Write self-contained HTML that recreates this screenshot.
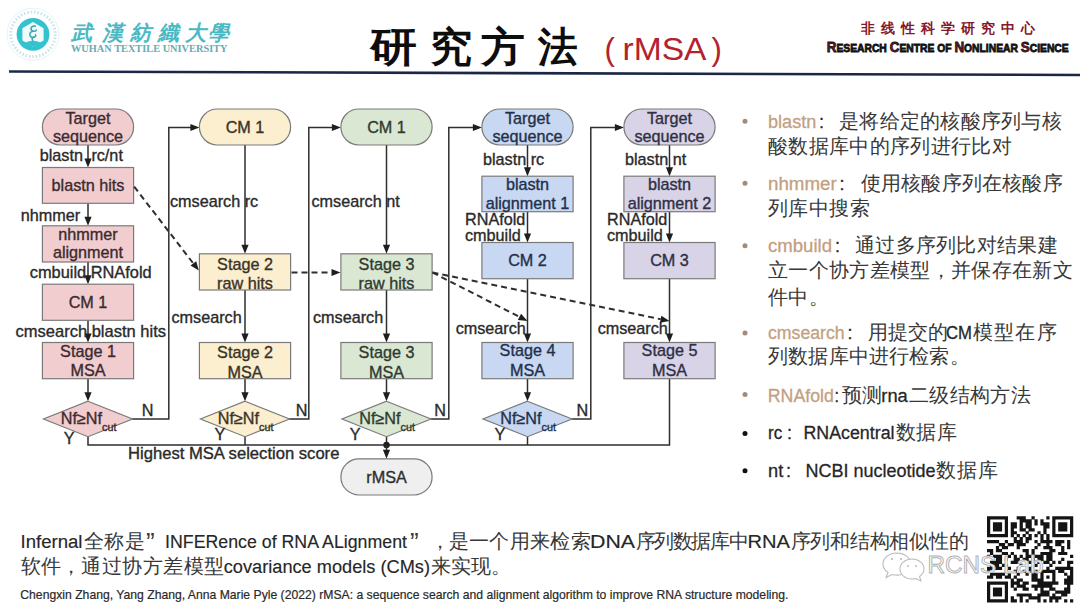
<!DOCTYPE html>
<html><head><meta charset="utf-8"><style>
html,body{margin:0;padding:0;background:#fff;}
body{width:1080px;height:609px;overflow:hidden;font-family:"Liberation Sans",sans-serif;}
svg{display:block;font-family:"Liberation Sans",sans-serif;}
</style></head><body>
<svg width="1080" height="609" viewBox="0 0 1080 609">
<line x1="9" y1="71.5" x2="1080" y2="75" stroke="#1c2748" stroke-width="2.6"/>
<circle cx="33" cy="34.3" r="26" fill="none" stroke="#dff0f2" stroke-width="0.8"/>
<circle cx="33" cy="34.3" r="22.3" fill="none" stroke="#c8e6ea" stroke-width="3" stroke-dasharray="1.6 1.8"/>
<circle cx="33" cy="34.3" r="16.4" fill="#33c3cf"/>
<polygon points="33.0,22.1 43.6,28.2 43.6,40.4 33.0,46.5 22.4,40.4 22.4,28.2" fill="#f2fbfb"/>
<path d="M36,26.299999999999997 q-4,-1 -5,2 q0,3 3,3 q3,0 2,-2 M33,31.299999999999997 q-4,1 -3,4 q1,3 4,2 q3,-1 1,-3 M34,36.3 q-3,2 -1,5" fill="none" stroke="#3aa5ae" stroke-width="1.5"/>
<path d="M25,42.8 q8,-4 16,0 l-8,4 z" fill="#33c3cf"/>
<text x="81" y="39.5" font-size="21" fill="#4ab9c3" text-anchor="middle" font-weight="bold" font-style="italic" font-family="'Liberation Serif',serif">武</text>
<text x="112" y="39.5" font-size="21" fill="#4ab9c3" text-anchor="middle" font-weight="bold" font-style="italic" font-family="'Liberation Serif',serif">漢</text>
<text x="140" y="39.5" font-size="21" fill="#4ab9c3" text-anchor="middle" font-weight="bold" font-style="italic" font-family="'Liberation Serif',serif">紡</text>
<text x="168" y="39.5" font-size="21" fill="#4ab9c3" text-anchor="middle" font-weight="bold" font-style="italic" font-family="'Liberation Serif',serif">織</text>
<text x="195" y="39.5" font-size="21" fill="#4ab9c3" text-anchor="middle" font-weight="bold" font-style="italic" font-family="'Liberation Serif',serif">大</text>
<text x="218" y="39.5" font-size="21" fill="#4ab9c3" text-anchor="middle" font-weight="bold" font-style="italic" font-family="'Liberation Serif',serif">學</text>
<text x="71" y="52.2" font-size="10.2" fill="#68abb2" font-weight="bold" textLength="156.5" lengthAdjust="spacingAndGlyphs" font-family="'Liberation Serif',serif">WUHAN TEXTILE UNIVERSITY</text>
<text x="370.2" y="61.3" font-size="41" font-weight="bold" fill="#0d0d0d" textLength="47.1" lengthAdjust="spacingAndGlyphs">研</text>
<text x="430.2" y="61.3" font-size="41" font-weight="bold" fill="#0d0d0d" textLength="42.1" lengthAdjust="spacingAndGlyphs">究</text>
<text x="481.0" y="61.3" font-size="41" font-weight="bold" fill="#0d0d0d" textLength="43.8" lengthAdjust="spacingAndGlyphs">方</text>
<text x="537.9" y="61.3" font-size="41" font-weight="bold" fill="#0d0d0d" textLength="39.6" lengthAdjust="spacingAndGlyphs">法</text>
<text x="604.5" y="60" font-size="31" fill="#b3222e">(</text>
<text x="622.5" y="60" font-size="31" fill="#b3222e" textLength="84" lengthAdjust="spacingAndGlyphs">rMSA</text>
<text x="711.5" y="60" font-size="31" fill="#b3222e">)</text>
<text x="861" y="32.5" font-size="14" font-weight="bold" fill="#86182a" textLength="174" lengthAdjust="spacing">非线性科学研究中心</text>
<text x="826.7" y="52.2" font-weight="bold" fill="#111" stroke="#111" stroke-width="0.8" textLength="242" lengthAdjust="spacingAndGlyphs"><tspan fill="#7a1424" font-size="15">R</tspan><tspan font-size="11.5">ESEARCH</tspan><tspan font-size="11.5"> </tspan><tspan fill="#7a1424" font-size="15">C</tspan><tspan font-size="11.5">ENTRE</tspan><tspan font-size="11.5"> </tspan><tspan font-size="11.5">OF</tspan><tspan font-size="11.5"> </tspan><tspan fill="#7a1424" font-size="15">N</tspan><tspan font-size="11.5">ONLINEAR</tspan><tspan font-size="11.5"> </tspan><tspan fill="#7a1424" font-size="15">S</tspan><tspan font-size="11.5">CIENCE</tspan></text>
<polyline points="132,419 168.8,419 168.8,127.5 191.4,127.5" fill="none" stroke="#2e2e2e" stroke-width="1.5"/>
<polygon points="190.4,123.9 190.4,131.1 199.4,127.5" fill="#1e1e1e"/>
<polyline points="289,419 308.8,419 308.8,127.5 332.9,127.5" fill="none" stroke="#2e2e2e" stroke-width="1.5"/>
<polygon points="331.9,123.9 331.9,131.1 340.9,127.5" fill="#1e1e1e"/>
<polyline points="430.5,419 448.8,419 448.8,127.5 473.9,127.5" fill="none" stroke="#2e2e2e" stroke-width="1.5"/>
<polygon points="472.9,123.9 472.9,131.1 481.9,127.5" fill="#1e1e1e"/>
<polyline points="571.5,419 590.8,419 590.8,127.5 615.9,127.5" fill="none" stroke="#2e2e2e" stroke-width="1.5"/>
<polygon points="614.9,123.9 614.9,131.1 623.9,127.5" fill="#1e1e1e"/>
<polyline points="88,437 88,445 669.5,445 669.5,378.5" fill="none" stroke="#2e2e2e" stroke-width="1.5"/>
<line x1="245" y1="437" x2="245" y2="445" stroke="#2e2e2e" stroke-width="1.5"/>
<line x1="386.5" y1="437" x2="386.5" y2="445" stroke="#2e2e2e" stroke-width="1.5"/>
<line x1="527.5" y1="437" x2="527.5" y2="445" stroke="#2e2e2e" stroke-width="1.5"/>
<circle cx="386.5" cy="445" r="3.2" fill="#1e1e1e"/>
<line x1="386.5" y1="445" x2="386.5" y2="452.8" stroke="#2e2e2e" stroke-width="1.5"/><polygon points="382.9,449.8 390.1,449.8 386.5,458.8" fill="#1e1e1e"/>
<line x1="88" y1="145" x2="88" y2="161.5" stroke="#2e2e2e" stroke-width="1.5"/><polygon points="84.4,158.5 91.6,158.5 88,167.5" fill="#1e1e1e"/>
<line x1="88" y1="203.3" x2="88" y2="219.8" stroke="#2e2e2e" stroke-width="1.5"/><polygon points="84.4,216.8 91.6,216.8 88,225.8" fill="#1e1e1e"/>
<line x1="88" y1="262" x2="88" y2="278.2" stroke="#2e2e2e" stroke-width="1.5"/><polygon points="84.4,275.2 91.6,275.2 88,284.2" fill="#1e1e1e"/>
<line x1="88" y1="320.3" x2="88" y2="336.5" stroke="#2e2e2e" stroke-width="1.5"/><polygon points="84.4,333.5 91.6,333.5 88,342.5" fill="#1e1e1e"/>
<line x1="88" y1="378.7" x2="88" y2="395.2" stroke="#2e2e2e" stroke-width="1.5"/><polygon points="84.4,392.2 91.6,392.2 88,401.2" fill="#1e1e1e"/>
<rect x="42.4" y="109" width="91.2" height="36" rx="18.0" ry="18.0" fill="#f1cdd0" stroke="#7a7a7a" stroke-width="1.2"/>
<text x="88" y="123.8" font-size="16.2" fill="#3b2b2e" text-anchor="middle" stroke="#3b2b2e" stroke-width="0.35">Target</text>
<text x="88" y="142.3" font-size="16.2" fill="#3b2b2e" text-anchor="middle" stroke="#3b2b2e" stroke-width="0.35">sequence</text>
<rect x="42.4" y="167.5" width="91.2" height="35.80000000000001" fill="#f1cdd0" stroke="#7a7a7a" stroke-width="1.2"/>
<text x="88" y="191.3" font-size="16.2" fill="#3b2b2e" text-anchor="middle" stroke="#3b2b2e" stroke-width="0.35">blastn hits</text>
<rect x="42.4" y="225.8" width="91.2" height="36.19999999999999" fill="#f1cdd0" stroke="#7a7a7a" stroke-width="1.2"/>
<text x="88" y="240" font-size="16.2" fill="#3b2b2e" text-anchor="middle" stroke="#3b2b2e" stroke-width="0.35">nhmmer</text>
<text x="88" y="258.3" font-size="16.2" fill="#3b2b2e" text-anchor="middle" stroke="#3b2b2e" stroke-width="0.35">alignment</text>
<rect x="42.4" y="284.2" width="91.2" height="36.10000000000002" fill="#f1cdd0" stroke="#7a7a7a" stroke-width="1.2"/>
<text x="88" y="307.5" font-size="16.2" fill="#3b2b2e" text-anchor="middle" stroke="#3b2b2e" stroke-width="0.35">CM 1</text>
<rect x="42.4" y="342.5" width="91.2" height="36.19999999999999" fill="#f1cdd0" stroke="#7a7a7a" stroke-width="1.2"/>
<text x="88" y="356.7" font-size="16.2" fill="#3b2b2e" text-anchor="middle" stroke="#3b2b2e" stroke-width="0.35">Stage 1</text>
<text x="88" y="375.8" font-size="16.2" fill="#3b2b2e" text-anchor="middle" stroke="#3b2b2e" stroke-width="0.35">MSA</text>
<text x="39.7" y="160.8" font-size="16.2" fill="#2a2a2a" stroke="#2a2a2a" stroke-width="0.35">blastn<tspan dx="4"> </tspan>rc/nt</text>
<text x="20.8" y="220.8" font-size="16.2" fill="#2a2a2a" stroke="#2a2a2a" stroke-width="0.35">nhmmer</text>
<text x="29.7" y="277.5" font-size="16.2" fill="#2a2a2a" textLength="122" lengthAdjust="spacingAndGlyphs" stroke="#2a2a2a" stroke-width="0.35">cmbuild RNAfold</text>
<text x="15.5" y="336.7" font-size="16.2" fill="#2a2a2a" textLength="150.5" lengthAdjust="spacingAndGlyphs" stroke="#2a2a2a" stroke-width="0.35">cmsearch blastn hits</text>
<line x1="245" y1="145" x2="245" y2="247.8" stroke="#2e2e2e" stroke-width="1.5"/><polygon points="241.4,244.8 248.6,244.8 245,253.8" fill="#1e1e1e"/>
<line x1="245" y1="290" x2="245" y2="336.5" stroke="#2e2e2e" stroke-width="1.5"/><polygon points="241.4,333.5 248.6,333.5 245,342.5" fill="#1e1e1e"/>
<line x1="245" y1="378.7" x2="245" y2="395.2" stroke="#2e2e2e" stroke-width="1.5"/><polygon points="241.4,392.2 248.6,392.2 245,401.2" fill="#1e1e1e"/>
<rect x="199.4" y="109" width="91.2" height="36" rx="18.0" ry="18.0" fill="#fbefcf" stroke="#7a7a7a" stroke-width="1.2"/>
<text x="245" y="133.3" font-size="16.2" fill="#3a3328" text-anchor="middle" stroke="#3a3328" stroke-width="0.35">CM 1</text>
<rect x="199.4" y="253.8" width="91.2" height="36.19999999999999" fill="#fbefcf" stroke="#7a7a7a" stroke-width="1.2"/>
<text x="245" y="269.8" font-size="16.2" fill="#3a3328" text-anchor="middle" stroke="#3a3328" stroke-width="0.35">Stage 2</text>
<text x="245" y="289.2" font-size="16.2" fill="#3a3328" text-anchor="middle" stroke="#3a3328" stroke-width="0.35">raw hits</text>
<rect x="199.4" y="342.5" width="91.2" height="36.19999999999999" fill="#fbefcf" stroke="#7a7a7a" stroke-width="1.2"/>
<text x="245" y="358.2" font-size="16.2" fill="#3a3328" text-anchor="middle" stroke="#3a3328" stroke-width="0.35">Stage 2</text>
<text x="245" y="377.7" font-size="16.2" fill="#3a3328" text-anchor="middle" stroke="#3a3328" stroke-width="0.35">MSA</text>
<text x="170" y="206.5" font-size="16.2" fill="#2a2a2a" stroke="#2a2a2a" stroke-width="0.35">cmsearch rc</text>
<text x="171.5" y="322.5" font-size="16.2" fill="#2a2a2a" stroke="#2a2a2a" stroke-width="0.35">cmsearch</text>
<line x1="386.5" y1="145" x2="386.5" y2="247.8" stroke="#2e2e2e" stroke-width="1.5"/><polygon points="382.9,244.8 390.1,244.8 386.5,253.8" fill="#1e1e1e"/>
<line x1="386.5" y1="290" x2="386.5" y2="336.5" stroke="#2e2e2e" stroke-width="1.5"/><polygon points="382.9,333.5 390.1,333.5 386.5,342.5" fill="#1e1e1e"/>
<line x1="386.5" y1="378.7" x2="386.5" y2="395.2" stroke="#2e2e2e" stroke-width="1.5"/><polygon points="382.9,392.2 390.1,392.2 386.5,401.2" fill="#1e1e1e"/>
<rect x="340.9" y="109" width="91.2" height="36" rx="18.0" ry="18.0" fill="#d9e7d3" stroke="#7a7a7a" stroke-width="1.2"/>
<text x="386.5" y="133.3" font-size="16.2" fill="#2f3a2f" text-anchor="middle" stroke="#2f3a2f" stroke-width="0.35">CM 1</text>
<rect x="340.9" y="253.8" width="91.2" height="36.19999999999999" fill="#d9e7d3" stroke="#7a7a7a" stroke-width="1.2"/>
<text x="386.5" y="269.8" font-size="16.2" fill="#2f3a2f" text-anchor="middle" stroke="#2f3a2f" stroke-width="0.35">Stage 3</text>
<text x="386.5" y="289.2" font-size="16.2" fill="#2f3a2f" text-anchor="middle" stroke="#2f3a2f" stroke-width="0.35">raw hits</text>
<rect x="340.9" y="342.5" width="91.2" height="36.19999999999999" fill="#d9e7d3" stroke="#7a7a7a" stroke-width="1.2"/>
<text x="386.5" y="358.2" font-size="16.2" fill="#2f3a2f" text-anchor="middle" stroke="#2f3a2f" stroke-width="0.35">Stage 3</text>
<text x="386.5" y="377.7" font-size="16.2" fill="#2f3a2f" text-anchor="middle" stroke="#2f3a2f" stroke-width="0.35">MSA</text>
<text x="311.5" y="206.5" font-size="16.2" fill="#2a2a2a" stroke="#2a2a2a" stroke-width="0.35">cmsearch nt</text>
<text x="313.0" y="322.5" font-size="16.2" fill="#2a2a2a" stroke="#2a2a2a" stroke-width="0.35">cmsearch</text>
<line x1="527.5" y1="145" x2="527.5" y2="170.2" stroke="#2e2e2e" stroke-width="1.5"/><polygon points="523.9,167.2 531.1,167.2 527.5,176.2" fill="#1e1e1e"/>
<line x1="527.5" y1="211.7" x2="527.5" y2="236.5" stroke="#2e2e2e" stroke-width="1.5"/><polygon points="523.9,233.5 531.1,233.5 527.5,242.5" fill="#1e1e1e"/>
<line x1="527.5" y1="278.7" x2="527.5" y2="336.5" stroke="#2e2e2e" stroke-width="1.5"/><polygon points="523.9,333.5 531.1,333.5 527.5,342.5" fill="#1e1e1e"/>
<line x1="527.5" y1="378.7" x2="527.5" y2="395.2" stroke="#2e2e2e" stroke-width="1.5"/><polygon points="523.9,392.2 531.1,392.2 527.5,401.2" fill="#1e1e1e"/>
<rect x="481.9" y="109" width="91.2" height="36" rx="18.0" ry="18.0" fill="#c8d8f3" stroke="#7a7a7a" stroke-width="1.2"/>
<text x="527.5" y="123.8" font-size="16.2" fill="#24304a" text-anchor="middle" stroke="#24304a" stroke-width="0.35">Target</text>
<text x="527.5" y="142.3" font-size="16.2" fill="#24304a" text-anchor="middle" stroke="#24304a" stroke-width="0.35">sequence</text>
<rect x="481.9" y="176.2" width="91.2" height="35.5" fill="#c8d8f3" stroke="#7a7a7a" stroke-width="1.2"/>
<text x="527.5" y="190.3" font-size="16.2" fill="#24304a" text-anchor="middle" stroke="#24304a" stroke-width="0.35">blastn</text>
<text x="527.5" y="209.2" font-size="16.2" fill="#24304a" text-anchor="middle" stroke="#24304a" stroke-width="0.35">alignment 1</text>
<rect x="481.9" y="242.5" width="91.2" height="36.19999999999999" fill="#c8d8f3" stroke="#7a7a7a" stroke-width="1.2"/>
<text x="527.5" y="266.3" font-size="16.2" fill="#24304a" text-anchor="middle" stroke="#24304a" stroke-width="0.35">CM 2</text>
<rect x="481.9" y="342.5" width="91.2" height="36.19999999999999" fill="#c8d8f3" stroke="#7a7a7a" stroke-width="1.2"/>
<text x="527.5" y="356.4" font-size="16.2" fill="#24304a" text-anchor="middle" stroke="#24304a" stroke-width="0.35">Stage 4</text>
<text x="527.5" y="375.8" font-size="16.2" fill="#24304a" text-anchor="middle" stroke="#24304a" stroke-width="0.35">MSA</text>
<text x="483.0" y="164.7" font-size="16.2" fill="#2a2a2a" stroke="#2a2a2a" stroke-width="0.35">blastn rc</text>
<text x="465.0" y="225" font-size="16.2" fill="#2a2a2a" stroke="#2a2a2a" stroke-width="0.35">RNAfold</text>
<text x="465.0" y="240.8" font-size="16.2" fill="#2a2a2a" stroke="#2a2a2a" stroke-width="0.35">cmbuild</text>
<text x="455.7" y="334.2" font-size="16.2" fill="#2a2a2a" stroke="#2a2a2a" stroke-width="0.35">cmsearch</text>
<line x1="669.5" y1="145" x2="669.5" y2="170.2" stroke="#2e2e2e" stroke-width="1.5"/><polygon points="665.9,167.2 673.1,167.2 669.5,176.2" fill="#1e1e1e"/>
<line x1="669.5" y1="211.7" x2="669.5" y2="236.5" stroke="#2e2e2e" stroke-width="1.5"/><polygon points="665.9,233.5 673.1,233.5 669.5,242.5" fill="#1e1e1e"/>
<line x1="669.5" y1="278.7" x2="669.5" y2="336.5" stroke="#2e2e2e" stroke-width="1.5"/><polygon points="665.9,333.5 673.1,333.5 669.5,342.5" fill="#1e1e1e"/>
<rect x="623.9" y="109" width="91.2" height="36" rx="18.0" ry="18.0" fill="#d8d3e6" stroke="#7a7a7a" stroke-width="1.2"/>
<text x="669.5" y="123.8" font-size="16.2" fill="#2f2f44" text-anchor="middle" stroke="#2f2f44" stroke-width="0.35">Target</text>
<text x="669.5" y="142.3" font-size="16.2" fill="#2f2f44" text-anchor="middle" stroke="#2f2f44" stroke-width="0.35">sequence</text>
<rect x="623.9" y="176.2" width="91.2" height="35.5" fill="#d8d3e6" stroke="#7a7a7a" stroke-width="1.2"/>
<text x="669.5" y="190.3" font-size="16.2" fill="#2f2f44" text-anchor="middle" stroke="#2f2f44" stroke-width="0.35">blastn</text>
<text x="669.5" y="209.2" font-size="16.2" fill="#2f2f44" text-anchor="middle" stroke="#2f2f44" stroke-width="0.35">alignment 2</text>
<rect x="623.9" y="242.5" width="91.2" height="36.19999999999999" fill="#d8d3e6" stroke="#7a7a7a" stroke-width="1.2"/>
<text x="669.5" y="266.3" font-size="16.2" fill="#2f2f44" text-anchor="middle" stroke="#2f2f44" stroke-width="0.35">CM 3</text>
<rect x="623.9" y="342.5" width="91.2" height="36.19999999999999" fill="#d8d3e6" stroke="#7a7a7a" stroke-width="1.2"/>
<text x="669.5" y="356.4" font-size="16.2" fill="#2f2f44" text-anchor="middle" stroke="#2f2f44" stroke-width="0.35">Stage 5</text>
<text x="669.5" y="375.8" font-size="16.2" fill="#2f2f44" text-anchor="middle" stroke="#2f2f44" stroke-width="0.35">MSA</text>
<text x="625.0" y="164.7" font-size="16.2" fill="#2a2a2a" stroke="#2a2a2a" stroke-width="0.35">blastn nt</text>
<text x="607.0" y="225" font-size="16.2" fill="#2a2a2a" stroke="#2a2a2a" stroke-width="0.35">RNAfold</text>
<text x="607.0" y="240.8" font-size="16.2" fill="#2a2a2a" stroke="#2a2a2a" stroke-width="0.35">cmbuild</text>
<text x="597.7" y="334.2" font-size="16.2" fill="#2a2a2a" stroke="#2a2a2a" stroke-width="0.35">cmsearch</text>
<polygon points="88,401.2 132.5,418.95 88,436.7 43.5,418.95" fill="#f1cdd0" stroke="#7a7a7a" stroke-width="1.2"/>
<text x="60.8" y="424.2" font-size="16.2" fill="#3b2b2e" stroke="#3b2b2e" stroke-width="0.35">Nf≥Nf<tspan font-size="10.8" dy="6.8">cut</tspan></text>
<text x="141.7" y="416" font-size="16.2" fill="#2a2a2a" stroke="#2a2a2a" stroke-width="0.35">N</text>
<text x="63.7" y="444.3" font-size="16.2" fill="#2a2a2a" stroke="#2a2a2a" stroke-width="0.35">Y</text>
<polygon points="245,401.2 289.5,418.95 245,436.7 200.5,418.95" fill="#fbefcf" stroke="#7a7a7a" stroke-width="1.2"/>
<text x="217.8" y="424.2" font-size="16.2" fill="#3a3328" stroke="#3a3328" stroke-width="0.35">Nf≥Nf<tspan font-size="10.8" dy="6.8">cut</tspan></text>
<text x="295.7" y="416" font-size="16.2" fill="#2a2a2a" stroke="#2a2a2a" stroke-width="0.35">N</text>
<text x="214.6" y="440.4" font-size="16.2" fill="#2a2a2a" stroke="#2a2a2a" stroke-width="0.35">Y</text>
<polygon points="386.5,401.2 431.0,418.95 386.5,436.7 342.0,418.95" fill="#d9e7d3" stroke="#7a7a7a" stroke-width="1.2"/>
<text x="359.3" y="424.2" font-size="16.2" fill="#2f3a2f" stroke="#2f3a2f" stroke-width="0.35">Nf≥Nf<tspan font-size="10.8" dy="6.8">cut</tspan></text>
<text x="434.3" y="416" font-size="16.2" fill="#2a2a2a" stroke="#2a2a2a" stroke-width="0.35">N</text>
<text x="349.7" y="439.8" font-size="16.2" fill="#2a2a2a" stroke="#2a2a2a" stroke-width="0.35">Y</text>
<polygon points="527.5,401.2 572.0,418.95 527.5,436.7 483.0,418.95" fill="#c8d8f3" stroke="#7a7a7a" stroke-width="1.2"/>
<text x="500.3" y="424.2" font-size="16.2" fill="#24304a" stroke="#24304a" stroke-width="0.35">Nf≥Nf<tspan font-size="10.8" dy="6.8">cut</tspan></text>
<text x="576.4" y="416" font-size="16.2" fill="#2a2a2a" stroke="#2a2a2a" stroke-width="0.35">N</text>
<text x="494.6" y="440.4" font-size="16.2" fill="#2a2a2a" stroke="#2a2a2a" stroke-width="0.35">Y</text>
<line x1="134.2" y1="186.7" x2="193.3" y2="263.4" stroke="#2e2e2e" stroke-width="2" stroke-dasharray="6 4"/><polygon points="190.5,265.6 196.2,261.2 198.8,270.5" fill="#1e1e1e"/>
<line x1="291.5" y1="272.5" x2="331.5" y2="272.5" stroke="#2e2e2e" stroke-width="2" stroke-dasharray="6 4"/><polygon points="331.5,276.1 331.5,268.9 340.5,272.5" fill="#1e1e1e"/>
<line x1="432.5" y1="272.5" x2="519.5" y2="316.9" stroke="#2e2e2e" stroke-width="2" stroke-dasharray="6 4"/><polygon points="517.8,320.1 521.1,313.7 527.5,321" fill="#1e1e1e"/>
<line x1="432.5" y1="272.5" x2="660.7" y2="319.2" stroke="#2e2e2e" stroke-width="2" stroke-dasharray="6 4"/><polygon points="660.0,322.7 661.4,315.7 669.5,321" fill="#1e1e1e"/>
<rect x="340.9" y="458.8" width="91.2" height="36.19999999999999" rx="18.099999999999994" ry="18.099999999999994" fill="#efefef" stroke="#7a7a7a" stroke-width="1.2"/>
<text x="386.5" y="483" font-size="16.2" fill="#2e2e2e" text-anchor="middle" stroke="#2e2e2e" stroke-width="0.35">rMSA</text>
<text x="128" y="459.4" font-size="16.2" fill="#2a2a2a" textLength="211.4" lengthAdjust="spacingAndGlyphs" stroke="#2a2a2a" stroke-width="0.35">Highest MSA selection score</text>
<circle cx="745" cy="121.3" r="2.5" fill="#a58a7a"/>
<text x="768" y="127.5" font-size="19.2" fill="#c3a080" stroke="#c3a080" stroke-width="0.3" textLength="48.3" lengthAdjust="spacingAndGlyphs">blastn</text>
<text x="819" y="127.5" font-size="19.2" fill="#262626" stroke="#262626" stroke-width="0.3" textLength="5.0" lengthAdjust="spacingAndGlyphs">:</text>
<text x="839.2" y="127.5" font-size="19.5" fill="#383838" textLength="222.3" lengthAdjust="spacing">是将给定的核酸序列与核</text>
<text x="768" y="152.5" font-size="19.5" fill="#383838" textLength="243.5" lengthAdjust="spacing">酸数据库中的序列进行比对</text>
<circle cx="745" cy="183.3" r="2.5" fill="#a58a7a"/>
<text x="768" y="190" font-size="19.2" fill="#c3a080" stroke="#c3a080" stroke-width="0.3" textLength="68.7" lengthAdjust="spacingAndGlyphs">nhmmer</text>
<text x="839.5" y="190" font-size="19.2" fill="#262626" stroke="#262626" stroke-width="0.3" textLength="5.0" lengthAdjust="spacingAndGlyphs">:</text>
<text x="860.8" y="190" font-size="19.5" fill="#383838" textLength="201.7" lengthAdjust="spacing">使用核酸序列在核酸序</text>
<text x="768" y="215" font-size="19.5" fill="#383838" textLength="101.5" lengthAdjust="spacing">列库中搜索</text>
<circle cx="745" cy="245.8" r="2.5" fill="#a58a7a"/>
<text x="768" y="251.7" font-size="19.2" fill="#c3a080" stroke="#c3a080" stroke-width="0.3" textLength="64.0" lengthAdjust="spacingAndGlyphs">cmbuild</text>
<text x="835" y="251.7" font-size="19.2" fill="#262626" stroke="#262626" stroke-width="0.3" textLength="5.0" lengthAdjust="spacingAndGlyphs">:</text>
<text x="855" y="251.7" font-size="19.5" fill="#383838" textLength="202.5" lengthAdjust="spacing">通过多序列比对结果建</text>
<text x="768" y="276.5" font-size="19.5" fill="#383838" textLength="304.5" lengthAdjust="spacing">立一个协方差模型，并保存在新文</text>
<text x="768" y="303.5" font-size="19.5" fill="#383838" textLength="60.6" lengthAdjust="spacing">件中。</text>
<circle cx="745" cy="333" r="2.5" fill="#a58a7a"/>
<text x="768" y="338.7" font-size="19.2" fill="#c3a080" stroke="#c3a080" stroke-width="0.3" textLength="76.7" lengthAdjust="spacingAndGlyphs">cmsearch</text>
<text x="847.5" y="338.7" font-size="19.2" fill="#262626" stroke="#262626" stroke-width="0.3" textLength="5.0" lengthAdjust="spacingAndGlyphs">:</text>
<text x="867.5" y="338.7" font-size="19.5" fill="#383838" textLength="80.8" lengthAdjust="spacing">用提交的</text>
<text x="946" y="338.7" font-size="19.2" fill="#262626" stroke="#262626" stroke-width="0.3" textLength="26.0" lengthAdjust="spacingAndGlyphs">CM</text>
<text x="973" y="338.7" font-size="19.5" fill="#383838" textLength="83.5" lengthAdjust="spacing">模型在序</text>
<text x="768" y="363.3" font-size="19.5" fill="#383838" textLength="201.5" lengthAdjust="spacing">列数据库中进行检索。</text>
<circle cx="745" cy="394.6" r="2.5" fill="#a58a7a"/>
<text x="767.8" y="401.5" font-size="19.2" fill="#c3a080" stroke="#c3a080" stroke-width="0.3" textLength="66.1" lengthAdjust="spacingAndGlyphs">RNAfold</text>
<text x="834.5" y="401.5" font-size="19.2" fill="#262626" stroke="#262626" stroke-width="0.3" textLength="4.5" lengthAdjust="spacingAndGlyphs">:</text>
<text x="841.7" y="401.5" font-size="19.5" fill="#383838" textLength="39.8" lengthAdjust="spacing">预测</text>
<text x="881.3" y="401.5" font-size="19.2" fill="#262626" stroke="#262626" stroke-width="0.3" textLength="26.5" lengthAdjust="spacingAndGlyphs">rna</text>
<text x="909" y="401.5" font-size="19.5" fill="#383838" textLength="121.5" lengthAdjust="spacing">二级结构方法</text>
<circle cx="745" cy="433.4" r="2.5" fill="#111"/>
<text x="768" y="439.3" font-size="19.2" fill="#262626" stroke="#262626" stroke-width="0.3" textLength="14.2" lengthAdjust="spacingAndGlyphs">rc</text>
<text x="787" y="439.3" font-size="19.2" fill="#262626" stroke="#262626" stroke-width="0.3" textLength="5.0" lengthAdjust="spacingAndGlyphs">:</text>
<text x="803.5" y="439.3" font-size="19.2" fill="#262626" stroke="#262626" stroke-width="0.3" textLength="91.0" lengthAdjust="spacingAndGlyphs">RNAcentral</text>
<text x="895.5" y="439.3" font-size="19.5" fill="#383838" textLength="61.4" lengthAdjust="spacing">数据库</text>
<circle cx="745" cy="470.8" r="2.5" fill="#111"/>
<text x="768" y="477.3" font-size="19.2" fill="#262626" stroke="#262626" stroke-width="0.3" textLength="15.2" lengthAdjust="spacingAndGlyphs">nt</text>
<text x="786" y="477.3" font-size="19.2" fill="#262626" stroke="#262626" stroke-width="0.3" textLength="5.0" lengthAdjust="spacingAndGlyphs">:</text>
<text x="805.4" y="477.3" font-size="19.2" fill="#262626" stroke="#262626" stroke-width="0.3" textLength="130.1" lengthAdjust="spacingAndGlyphs">NCBI nucleotide</text>
<text x="936.3" y="477.3" font-size="19.5" fill="#383838" textLength="61.5" lengthAdjust="spacing">数据库</text>
<text x="20.5" y="547.5" font-size="19.2" fill="#262626" stroke="#262626" stroke-width="0.15" textLength="62.0" lengthAdjust="spacingAndGlyphs">Infernal</text>
<text x="83.5" y="547.5" font-size="19.5" fill="#383838" textLength="61.5" lengthAdjust="spacing">全称是</text>
<text x="146" y="550.5" font-size="26" fill="#383838">”</text>
<text x="165" y="547.5" font-size="19.2" fill="#262626" stroke="#262626" stroke-width="0.15" textLength="242.0" lengthAdjust="spacingAndGlyphs">INFERence of RNA ALignment</text>
<text x="410" y="550.5" font-size="26" fill="#383838">”</text>
<text x="430" y="547.5" font-size="19.5" fill="#383838" textLength="20.2" lengthAdjust="spacing">，</text>
<text x="448.75" y="547.5" font-size="19.5" fill="#383838" textLength="141.8" lengthAdjust="spacing">是一个用来检索</text>
<text x="590" y="547.5" font-size="19.2" fill="#262626" stroke="#262626" stroke-width="0.15" textLength="45.0" lengthAdjust="spacingAndGlyphs">DNA</text>
<text x="635.5" y="547.5" font-size="19.5" fill="#383838" textLength="113.0" lengthAdjust="spacing">序列数据库中</text>
<text x="747.5" y="547.5" font-size="19.2" fill="#262626" stroke="#262626" stroke-width="0.15" textLength="42.5" lengthAdjust="spacingAndGlyphs">RNA</text>
<text x="790.5" y="547.5" font-size="19.5" fill="#383838" textLength="178.0" lengthAdjust="spacing">序列和结构相似性的</text>
<text x="20.5" y="572.5" font-size="19.5" fill="#383838" textLength="60.6" lengthAdjust="spacing">软件，</text>
<text x="81.25" y="572.5" font-size="19.5" fill="#383838" textLength="143.2" lengthAdjust="spacing">通过协方差模型</text>
<text x="223.75" y="572.5" font-size="19.2" fill="#262626" stroke="#262626" stroke-width="0.15" textLength="206.2" lengthAdjust="spacingAndGlyphs">covariance models (CMs)</text>
<text x="430.5" y="572.5" font-size="19.5" fill="#383838" textLength="80.8" lengthAdjust="spacing">来实现。</text>
<text x="20.3" y="599.2" font-size="12.2" fill="#2a2a2a" stroke="#2a2a2a" stroke-width="0.2" textLength="768.2" lengthAdjust="spacingAndGlyphs">Chengxin Zhang, Yang Zhang, Anna Marie Pyle (2022) rMSA: a sequence search and alignment algorithm to improve RNA structure modeling.</text>
<path fill="#141414" d="M987.00,516.30h3.22v3.22h-3.22zM989.97,516.30h3.22v3.22h-3.22zM992.93,516.30h3.22v3.22h-3.22zM995.90,516.30h3.22v3.22h-3.22zM998.86,516.30h3.22v3.22h-3.22zM1001.83,516.30h3.22v3.22h-3.22zM1004.79,516.30h3.22v3.22h-3.22zM1016.66,516.30h3.22v3.22h-3.22zM1019.62,516.30h3.22v3.22h-3.22zM1022.59,516.30h3.22v3.22h-3.22zM1031.48,516.30h3.22v3.22h-3.22zM1046.31,516.30h3.22v3.22h-3.22zM1052.24,516.30h3.22v3.22h-3.22zM1055.21,516.30h3.22v3.22h-3.22zM1058.17,516.30h3.22v3.22h-3.22zM1061.14,516.30h3.22v3.22h-3.22zM1064.10,516.30h3.22v3.22h-3.22zM1067.07,516.30h3.22v3.22h-3.22zM1070.03,516.30h3.22v3.22h-3.22zM987.00,519.27h3.22v3.22h-3.22zM1004.79,519.27h3.22v3.22h-3.22zM1019.62,519.27h3.22v3.22h-3.22zM1022.59,519.27h3.22v3.22h-3.22zM1025.55,519.27h3.22v3.22h-3.22zM1028.52,519.27h3.22v3.22h-3.22zM1034.45,519.27h3.22v3.22h-3.22zM1040.38,519.27h3.22v3.22h-3.22zM1052.24,519.27h3.22v3.22h-3.22zM1070.03,519.27h3.22v3.22h-3.22zM987.00,522.23h3.22v3.22h-3.22zM992.93,522.23h3.22v3.22h-3.22zM995.90,522.23h3.22v3.22h-3.22zM998.86,522.23h3.22v3.22h-3.22zM1004.79,522.23h3.22v3.22h-3.22zM1010.72,522.23h3.22v3.22h-3.22zM1013.69,522.23h3.22v3.22h-3.22zM1019.62,522.23h3.22v3.22h-3.22zM1025.55,522.23h3.22v3.22h-3.22zM1028.52,522.23h3.22v3.22h-3.22zM1034.45,522.23h3.22v3.22h-3.22zM1040.38,522.23h3.22v3.22h-3.22zM1043.34,522.23h3.22v3.22h-3.22zM1046.31,522.23h3.22v3.22h-3.22zM1052.24,522.23h3.22v3.22h-3.22zM1058.17,522.23h3.22v3.22h-3.22zM1061.14,522.23h3.22v3.22h-3.22zM1064.10,522.23h3.22v3.22h-3.22zM1070.03,522.23h3.22v3.22h-3.22zM987.00,525.20h3.22v3.22h-3.22zM992.93,525.20h3.22v3.22h-3.22zM995.90,525.20h3.22v3.22h-3.22zM998.86,525.20h3.22v3.22h-3.22zM1004.79,525.20h3.22v3.22h-3.22zM1010.72,525.20h3.22v3.22h-3.22zM1013.69,525.20h3.22v3.22h-3.22zM1019.62,525.20h3.22v3.22h-3.22zM1025.55,525.20h3.22v3.22h-3.22zM1028.52,525.20h3.22v3.22h-3.22zM1043.34,525.20h3.22v3.22h-3.22zM1046.31,525.20h3.22v3.22h-3.22zM1052.24,525.20h3.22v3.22h-3.22zM1058.17,525.20h3.22v3.22h-3.22zM1061.14,525.20h3.22v3.22h-3.22zM1064.10,525.20h3.22v3.22h-3.22zM1070.03,525.20h3.22v3.22h-3.22zM987.00,528.16h3.22v3.22h-3.22zM992.93,528.16h3.22v3.22h-3.22zM995.90,528.16h3.22v3.22h-3.22zM998.86,528.16h3.22v3.22h-3.22zM1004.79,528.16h3.22v3.22h-3.22zM1010.72,528.16h3.22v3.22h-3.22zM1019.62,528.16h3.22v3.22h-3.22zM1022.59,528.16h3.22v3.22h-3.22zM1028.52,528.16h3.22v3.22h-3.22zM1031.48,528.16h3.22v3.22h-3.22zM1043.34,528.16h3.22v3.22h-3.22zM1052.24,528.16h3.22v3.22h-3.22zM1058.17,528.16h3.22v3.22h-3.22zM1061.14,528.16h3.22v3.22h-3.22zM1064.10,528.16h3.22v3.22h-3.22zM1070.03,528.16h3.22v3.22h-3.22zM987.00,531.13h3.22v3.22h-3.22zM1004.79,531.13h3.22v3.22h-3.22zM1010.72,531.13h3.22v3.22h-3.22zM1013.69,531.13h3.22v3.22h-3.22zM1025.55,531.13h3.22v3.22h-3.22zM1037.41,531.13h3.22v3.22h-3.22zM1043.34,531.13h3.22v3.22h-3.22zM1052.24,531.13h3.22v3.22h-3.22zM1070.03,531.13h3.22v3.22h-3.22zM987.00,534.09h3.22v3.22h-3.22zM989.97,534.09h3.22v3.22h-3.22zM992.93,534.09h3.22v3.22h-3.22zM995.90,534.09h3.22v3.22h-3.22zM998.86,534.09h3.22v3.22h-3.22zM1001.83,534.09h3.22v3.22h-3.22zM1004.79,534.09h3.22v3.22h-3.22zM1010.72,534.09h3.22v3.22h-3.22zM1016.66,534.09h3.22v3.22h-3.22zM1022.59,534.09h3.22v3.22h-3.22zM1028.52,534.09h3.22v3.22h-3.22zM1034.45,534.09h3.22v3.22h-3.22zM1040.38,534.09h3.22v3.22h-3.22zM1046.31,534.09h3.22v3.22h-3.22zM1052.24,534.09h3.22v3.22h-3.22zM1055.21,534.09h3.22v3.22h-3.22zM1058.17,534.09h3.22v3.22h-3.22zM1061.14,534.09h3.22v3.22h-3.22zM1064.10,534.09h3.22v3.22h-3.22zM1067.07,534.09h3.22v3.22h-3.22zM1070.03,534.09h3.22v3.22h-3.22zM1013.69,537.06h3.22v3.22h-3.22zM1019.62,537.06h3.22v3.22h-3.22zM1025.55,537.06h3.22v3.22h-3.22zM1028.52,537.06h3.22v3.22h-3.22zM1040.38,537.06h3.22v3.22h-3.22zM1046.31,537.06h3.22v3.22h-3.22zM987.00,540.02h3.22v3.22h-3.22zM989.97,540.02h3.22v3.22h-3.22zM992.93,540.02h3.22v3.22h-3.22zM995.90,540.02h3.22v3.22h-3.22zM1004.79,540.02h3.22v3.22h-3.22zM1013.69,540.02h3.22v3.22h-3.22zM1016.66,540.02h3.22v3.22h-3.22zM1019.62,540.02h3.22v3.22h-3.22zM1025.55,540.02h3.22v3.22h-3.22zM1034.45,540.02h3.22v3.22h-3.22zM1040.38,540.02h3.22v3.22h-3.22zM1043.34,540.02h3.22v3.22h-3.22zM1046.31,540.02h3.22v3.22h-3.22zM1049.28,540.02h3.22v3.22h-3.22zM1055.21,540.02h3.22v3.22h-3.22zM1058.17,540.02h3.22v3.22h-3.22zM1061.14,540.02h3.22v3.22h-3.22zM1067.07,540.02h3.22v3.22h-3.22zM998.86,542.99h3.22v3.22h-3.22zM1001.83,542.99h3.22v3.22h-3.22zM1007.76,542.99h3.22v3.22h-3.22zM1010.72,542.99h3.22v3.22h-3.22zM1016.66,542.99h3.22v3.22h-3.22zM1019.62,542.99h3.22v3.22h-3.22zM1022.59,542.99h3.22v3.22h-3.22zM1037.41,542.99h3.22v3.22h-3.22zM1046.31,542.99h3.22v3.22h-3.22zM1055.21,542.99h3.22v3.22h-3.22zM1058.17,542.99h3.22v3.22h-3.22zM1067.07,542.99h3.22v3.22h-3.22zM995.90,545.96h3.22v3.22h-3.22zM1001.83,545.96h3.22v3.22h-3.22zM1004.79,545.96h3.22v3.22h-3.22zM1016.66,545.96h3.22v3.22h-3.22zM1034.45,545.96h3.22v3.22h-3.22zM1043.34,545.96h3.22v3.22h-3.22zM1046.31,545.96h3.22v3.22h-3.22zM1049.28,545.96h3.22v3.22h-3.22zM1061.14,545.96h3.22v3.22h-3.22zM1067.07,545.96h3.22v3.22h-3.22zM987.00,548.92h3.22v3.22h-3.22zM989.97,548.92h3.22v3.22h-3.22zM995.90,548.92h3.22v3.22h-3.22zM998.86,548.92h3.22v3.22h-3.22zM1022.59,548.92h3.22v3.22h-3.22zM1025.55,548.92h3.22v3.22h-3.22zM1031.48,548.92h3.22v3.22h-3.22zM1049.28,548.92h3.22v3.22h-3.22zM1052.24,548.92h3.22v3.22h-3.22zM1061.14,548.92h3.22v3.22h-3.22zM989.97,551.89h3.22v3.22h-3.22zM1001.83,551.89h3.22v3.22h-3.22zM1004.79,551.89h3.22v3.22h-3.22zM1010.72,551.89h3.22v3.22h-3.22zM1025.55,551.89h3.22v3.22h-3.22zM1031.48,551.89h3.22v3.22h-3.22zM1040.38,551.89h3.22v3.22h-3.22zM1043.34,551.89h3.22v3.22h-3.22zM1046.31,551.89h3.22v3.22h-3.22zM1049.28,551.89h3.22v3.22h-3.22zM1058.17,551.89h3.22v3.22h-3.22zM1061.14,551.89h3.22v3.22h-3.22zM1064.10,551.89h3.22v3.22h-3.22zM987.00,554.85h3.22v3.22h-3.22zM992.93,554.85h3.22v3.22h-3.22zM995.90,554.85h3.22v3.22h-3.22zM998.86,554.85h3.22v3.22h-3.22zM1007.76,554.85h3.22v3.22h-3.22zM1013.69,554.85h3.22v3.22h-3.22zM1019.62,554.85h3.22v3.22h-3.22zM1025.55,554.85h3.22v3.22h-3.22zM1028.52,554.85h3.22v3.22h-3.22zM1034.45,554.85h3.22v3.22h-3.22zM1037.41,554.85h3.22v3.22h-3.22zM1040.38,554.85h3.22v3.22h-3.22zM1046.31,554.85h3.22v3.22h-3.22zM1049.28,554.85h3.22v3.22h-3.22zM1070.03,554.85h3.22v3.22h-3.22zM995.90,557.82h3.22v3.22h-3.22zM998.86,557.82h3.22v3.22h-3.22zM1004.79,557.82h3.22v3.22h-3.22zM1013.69,557.82h3.22v3.22h-3.22zM1016.66,557.82h3.22v3.22h-3.22zM1022.59,557.82h3.22v3.22h-3.22zM1025.55,557.82h3.22v3.22h-3.22zM1031.48,557.82h3.22v3.22h-3.22zM1037.41,557.82h3.22v3.22h-3.22zM1040.38,557.82h3.22v3.22h-3.22zM1046.31,557.82h3.22v3.22h-3.22zM1049.28,557.82h3.22v3.22h-3.22zM1061.14,557.82h3.22v3.22h-3.22zM989.97,560.78h3.22v3.22h-3.22zM992.93,560.78h3.22v3.22h-3.22zM995.90,560.78h3.22v3.22h-3.22zM998.86,560.78h3.22v3.22h-3.22zM1010.72,560.78h3.22v3.22h-3.22zM1013.69,560.78h3.22v3.22h-3.22zM1016.66,560.78h3.22v3.22h-3.22zM1028.52,560.78h3.22v3.22h-3.22zM1031.48,560.78h3.22v3.22h-3.22zM1037.41,560.78h3.22v3.22h-3.22zM1043.34,560.78h3.22v3.22h-3.22zM1046.31,560.78h3.22v3.22h-3.22zM1052.24,560.78h3.22v3.22h-3.22zM1058.17,560.78h3.22v3.22h-3.22zM1067.07,560.78h3.22v3.22h-3.22zM1070.03,560.78h3.22v3.22h-3.22zM989.97,563.75h3.22v3.22h-3.22zM992.93,563.75h3.22v3.22h-3.22zM995.90,563.75h3.22v3.22h-3.22zM1001.83,563.75h3.22v3.22h-3.22zM1004.79,563.75h3.22v3.22h-3.22zM1019.62,563.75h3.22v3.22h-3.22zM1034.45,563.75h3.22v3.22h-3.22zM1049.28,563.75h3.22v3.22h-3.22zM1067.07,563.75h3.22v3.22h-3.22zM987.00,566.71h3.22v3.22h-3.22zM989.97,566.71h3.22v3.22h-3.22zM992.93,566.71h3.22v3.22h-3.22zM995.90,566.71h3.22v3.22h-3.22zM998.86,566.71h3.22v3.22h-3.22zM1007.76,566.71h3.22v3.22h-3.22zM1016.66,566.71h3.22v3.22h-3.22zM1028.52,566.71h3.22v3.22h-3.22zM1046.31,566.71h3.22v3.22h-3.22zM1055.21,566.71h3.22v3.22h-3.22zM1058.17,566.71h3.22v3.22h-3.22zM1061.14,566.71h3.22v3.22h-3.22zM1064.10,566.71h3.22v3.22h-3.22zM1067.07,566.71h3.22v3.22h-3.22zM1070.03,566.71h3.22v3.22h-3.22zM987.00,569.68h3.22v3.22h-3.22zM1004.79,569.68h3.22v3.22h-3.22zM1013.69,569.68h3.22v3.22h-3.22zM1022.59,569.68h3.22v3.22h-3.22zM1028.52,569.68h3.22v3.22h-3.22zM1031.48,569.68h3.22v3.22h-3.22zM1034.45,569.68h3.22v3.22h-3.22zM1040.38,569.68h3.22v3.22h-3.22zM1043.34,569.68h3.22v3.22h-3.22zM1046.31,569.68h3.22v3.22h-3.22zM1049.28,569.68h3.22v3.22h-3.22zM1052.24,569.68h3.22v3.22h-3.22zM1058.17,569.68h3.22v3.22h-3.22zM1061.14,569.68h3.22v3.22h-3.22zM1070.03,569.68h3.22v3.22h-3.22zM989.97,572.64h3.22v3.22h-3.22zM992.93,572.64h3.22v3.22h-3.22zM995.90,572.64h3.22v3.22h-3.22zM998.86,572.64h3.22v3.22h-3.22zM1001.83,572.64h3.22v3.22h-3.22zM1007.76,572.64h3.22v3.22h-3.22zM1016.66,572.64h3.22v3.22h-3.22zM1025.55,572.64h3.22v3.22h-3.22zM1031.48,572.64h3.22v3.22h-3.22zM1034.45,572.64h3.22v3.22h-3.22zM1040.38,572.64h3.22v3.22h-3.22zM1052.24,572.64h3.22v3.22h-3.22zM1064.10,572.64h3.22v3.22h-3.22zM1070.03,572.64h3.22v3.22h-3.22zM987.00,575.61h3.22v3.22h-3.22zM989.97,575.61h3.22v3.22h-3.22zM995.90,575.61h3.22v3.22h-3.22zM998.86,575.61h3.22v3.22h-3.22zM1004.79,575.61h3.22v3.22h-3.22zM1007.76,575.61h3.22v3.22h-3.22zM1013.69,575.61h3.22v3.22h-3.22zM1031.48,575.61h3.22v3.22h-3.22zM1034.45,575.61h3.22v3.22h-3.22zM1040.38,575.61h3.22v3.22h-3.22zM1046.31,575.61h3.22v3.22h-3.22zM1052.24,575.61h3.22v3.22h-3.22zM1067.07,575.61h3.22v3.22h-3.22zM1070.03,575.61h3.22v3.22h-3.22zM1010.72,578.58h3.22v3.22h-3.22zM1016.66,578.58h3.22v3.22h-3.22zM1019.62,578.58h3.22v3.22h-3.22zM1031.48,578.58h3.22v3.22h-3.22zM1034.45,578.58h3.22v3.22h-3.22zM1037.41,578.58h3.22v3.22h-3.22zM1040.38,578.58h3.22v3.22h-3.22zM1052.24,578.58h3.22v3.22h-3.22zM1064.10,578.58h3.22v3.22h-3.22zM1067.07,578.58h3.22v3.22h-3.22zM1070.03,578.58h3.22v3.22h-3.22zM987.00,581.54h3.22v3.22h-3.22zM989.97,581.54h3.22v3.22h-3.22zM992.93,581.54h3.22v3.22h-3.22zM995.90,581.54h3.22v3.22h-3.22zM998.86,581.54h3.22v3.22h-3.22zM1001.83,581.54h3.22v3.22h-3.22zM1004.79,581.54h3.22v3.22h-3.22zM1010.72,581.54h3.22v3.22h-3.22zM1013.69,581.54h3.22v3.22h-3.22zM1016.66,581.54h3.22v3.22h-3.22zM1022.59,581.54h3.22v3.22h-3.22zM1025.55,581.54h3.22v3.22h-3.22zM1037.41,581.54h3.22v3.22h-3.22zM1040.38,581.54h3.22v3.22h-3.22zM1043.34,581.54h3.22v3.22h-3.22zM1046.31,581.54h3.22v3.22h-3.22zM1049.28,581.54h3.22v3.22h-3.22zM1052.24,581.54h3.22v3.22h-3.22zM1055.21,581.54h3.22v3.22h-3.22zM1064.10,581.54h3.22v3.22h-3.22zM1067.07,581.54h3.22v3.22h-3.22zM1070.03,581.54h3.22v3.22h-3.22zM987.00,584.51h3.22v3.22h-3.22zM1004.79,584.51h3.22v3.22h-3.22zM1010.72,584.51h3.22v3.22h-3.22zM1016.66,584.51h3.22v3.22h-3.22zM1019.62,584.51h3.22v3.22h-3.22zM1022.59,584.51h3.22v3.22h-3.22zM1031.48,584.51h3.22v3.22h-3.22zM1034.45,584.51h3.22v3.22h-3.22zM1037.41,584.51h3.22v3.22h-3.22zM1040.38,584.51h3.22v3.22h-3.22zM1043.34,584.51h3.22v3.22h-3.22zM1046.31,584.51h3.22v3.22h-3.22zM1049.28,584.51h3.22v3.22h-3.22zM1067.07,584.51h3.22v3.22h-3.22zM987.00,587.47h3.22v3.22h-3.22zM992.93,587.47h3.22v3.22h-3.22zM995.90,587.47h3.22v3.22h-3.22zM998.86,587.47h3.22v3.22h-3.22zM1004.79,587.47h3.22v3.22h-3.22zM1013.69,587.47h3.22v3.22h-3.22zM1022.59,587.47h3.22v3.22h-3.22zM1025.55,587.47h3.22v3.22h-3.22zM1034.45,587.47h3.22v3.22h-3.22zM1040.38,587.47h3.22v3.22h-3.22zM1049.28,587.47h3.22v3.22h-3.22zM1052.24,587.47h3.22v3.22h-3.22zM1064.10,587.47h3.22v3.22h-3.22zM1067.07,587.47h3.22v3.22h-3.22zM987.00,590.44h3.22v3.22h-3.22zM992.93,590.44h3.22v3.22h-3.22zM995.90,590.44h3.22v3.22h-3.22zM998.86,590.44h3.22v3.22h-3.22zM1004.79,590.44h3.22v3.22h-3.22zM1040.38,590.44h3.22v3.22h-3.22zM1043.34,590.44h3.22v3.22h-3.22zM1046.31,590.44h3.22v3.22h-3.22zM1055.21,590.44h3.22v3.22h-3.22zM1058.17,590.44h3.22v3.22h-3.22zM1061.14,590.44h3.22v3.22h-3.22zM1064.10,590.44h3.22v3.22h-3.22zM1067.07,590.44h3.22v3.22h-3.22zM987.00,593.40h3.22v3.22h-3.22zM992.93,593.40h3.22v3.22h-3.22zM995.90,593.40h3.22v3.22h-3.22zM998.86,593.40h3.22v3.22h-3.22zM1004.79,593.40h3.22v3.22h-3.22zM1016.66,593.40h3.22v3.22h-3.22zM1019.62,593.40h3.22v3.22h-3.22zM1022.59,593.40h3.22v3.22h-3.22zM1025.55,593.40h3.22v3.22h-3.22zM1028.52,593.40h3.22v3.22h-3.22zM1037.41,593.40h3.22v3.22h-3.22zM1040.38,593.40h3.22v3.22h-3.22zM1043.34,593.40h3.22v3.22h-3.22zM1046.31,593.40h3.22v3.22h-3.22zM1052.24,593.40h3.22v3.22h-3.22zM1061.14,593.40h3.22v3.22h-3.22zM1064.10,593.40h3.22v3.22h-3.22zM987.00,596.37h3.22v3.22h-3.22zM1004.79,596.37h3.22v3.22h-3.22zM1010.72,596.37h3.22v3.22h-3.22zM1019.62,596.37h3.22v3.22h-3.22zM1028.52,596.37h3.22v3.22h-3.22zM1031.48,596.37h3.22v3.22h-3.22zM1034.45,596.37h3.22v3.22h-3.22zM1037.41,596.37h3.22v3.22h-3.22zM1049.28,596.37h3.22v3.22h-3.22zM1052.24,596.37h3.22v3.22h-3.22zM1055.21,596.37h3.22v3.22h-3.22zM1058.17,596.37h3.22v3.22h-3.22zM987.00,599.33h3.22v3.22h-3.22zM989.97,599.33h3.22v3.22h-3.22zM992.93,599.33h3.22v3.22h-3.22zM995.90,599.33h3.22v3.22h-3.22zM998.86,599.33h3.22v3.22h-3.22zM1001.83,599.33h3.22v3.22h-3.22zM1004.79,599.33h3.22v3.22h-3.22zM1010.72,599.33h3.22v3.22h-3.22zM1013.69,599.33h3.22v3.22h-3.22zM1019.62,599.33h3.22v3.22h-3.22zM1025.55,599.33h3.22v3.22h-3.22zM1037.41,599.33h3.22v3.22h-3.22zM1043.34,599.33h3.22v3.22h-3.22zM1049.28,599.33h3.22v3.22h-3.22zM1055.21,599.33h3.22v3.22h-3.22zM1064.10,599.33h3.22v3.22h-3.22zM1070.03,599.33h3.22v3.22h-3.22z"/>
<g fill="#ffffff" stroke="#bdbdbd" stroke-width="1.1"><path d="M897,553 c-8,0 -14,5 -14,11 c0,3.5 2,6.5 5,8.5 l-2,5 l6,-3 c1.6,0.4 3.3,0.6 5,0.6 c8,0 14,-5 14,-11 s-6,-11 -14,-11 z"/><path d="M912,559 c-7,0 -12,4.5 -12,10 s5,10 12,10 c1.4,0 2.8,-0.2 4,-0.5 l5,2.5 l-1.5,-4.5 c2.6,-1.8 4.5,-4.5 4.5,-7.5 c0,-5.5 -5,-10 -12,-10 z"/></g>
<g fill="#b5b5b5"><circle cx="892" cy="559" r="1"/><circle cx="901" cy="559" r="1"/><circle cx="908" cy="566" r="0.9"/><circle cx="916" cy="566" r="0.9"/></g>
<text x="927.5" y="573" font-size="23" fill="#ffffff" stroke="#b0b0b0" stroke-width="0.9" textLength="116" lengthAdjust="spacingAndGlyphs">RCNS Lab</text>
</svg>
</body></html>
